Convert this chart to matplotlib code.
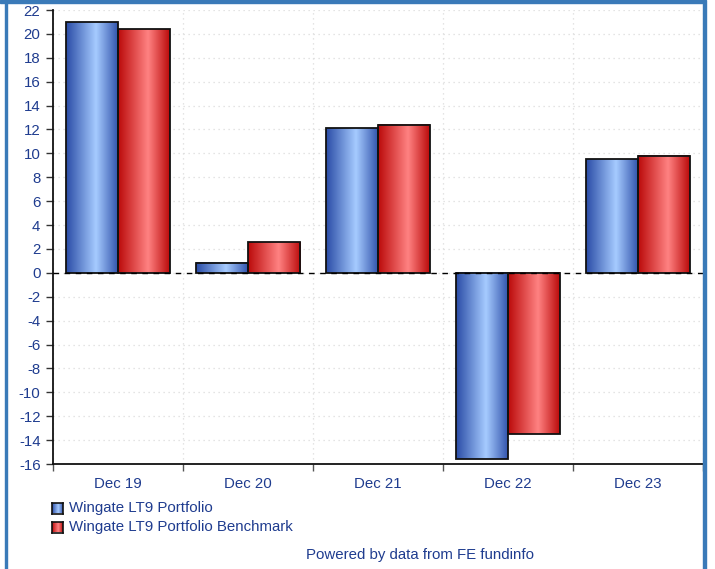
import numpy as np
import matplotlib
matplotlib.use("Agg")
import matplotlib.pyplot as plt
from matplotlib.colors import LinearSegmentedColormap
from matplotlib.patches import Rectangle

categories = ["Dec 19", "Dec 20", "Dec 21", "Dec 22", "Dec 23"]
portfolio = [21.0, 0.85, 12.1, -15.6, 9.5]
benchmark = [20.4, 2.55, 12.4, -13.5, 9.8]
series_names = ["Wingate LT9 Portfolio", "Wingate LT9 Portfolio Benchmark"]
yticks = list(range(-16, 23, 2))

plt.rcParams['font.family'] = ['Liberation Sans', 'DejaVu Sans']
text_color = '#1f3c8f'
fs = 10.8

fig = plt.figure(figsize=(7.15, 5.69), dpi=100)
ax = fig.add_axes([53/715, 1-464/569, 650/715, 454/569])

blue_cmap = LinearSegmentedColormap.from_list('b', [(0, '#2a4ca6'), (0.58, '#a6cbff'), (1, '#3355ad')])
red_cmap = LinearSegmentedColormap.from_list('r', [(0, '#bb0a0a'), (0.58, '#ff8282'), (1, '#bb0a0a')])
grad = np.linspace(0, 1, 256).reshape(1, -1)

x = np.arange(len(categories))
w = 0.4
b1 = ax.bar(x - w/2, portfolio, w, facecolor='none', edgecolor='#111111', linewidth=1.3, zorder=4)
b2 = ax.bar(x + w/2, benchmark, w, facecolor='none', edgecolor='#111111', linewidth=1.3, zorder=4)
for bars, cmap in ((b1, blue_cmap), (b2, red_cmap)):
    for r in bars:
        x0, y0 = r.get_x(), r.get_y()
        ww, hh = r.get_width(), r.get_height()
        ax.imshow(grad, cmap=cmap, extent=[x0, x0+ww, y0, y0+hh], aspect='auto', zorder=3, interpolation='bilinear')

ax.axhline(0, color='black', linestyle=(0, (4, 4)), linewidth=1, zorder=5)

ax.set_xlim(-0.5, len(categories) - 0.5)
ax.set_ylim(-16, 22)
ax.set_yticks(yticks)
ax.set_yticklabels([str(v) for v in yticks])
ax.set_xticks(x)
ax.set_xticklabels(categories)
ax.set_xticks(np.arange(len(categories) + 1) - 0.5, minor=True)
ax.tick_params(axis='x', which='major', length=0, pad=9, labelsize=fs, labelcolor=text_color)
ax.tick_params(axis='x', which='minor', length=5, width=1, color='#555555', direction='out')
ax.tick_params(axis='y', length=5, width=1, color='#333333', labelsize=fs, labelcolor=text_color, pad=4)

ax.grid(True, axis='y', which='major', color='#dcdcdc', linestyle=(0, (1, 3)), linewidth=0.9, zorder=0)
ax.grid(True, axis='x', which='minor', color='#dcdcdc', linestyle=(0, (1, 3)), linewidth=0.9, zorder=0)
ax.set_axisbelow(True)
for s in ('top', 'right'):
    ax.spines[s].set_visible(False)
ax.spines['left'].set_linewidth(1.3)
ax.spines['bottom'].set_linewidth(1.3)
ax.spines['left'].set_color('#111111')
ax.spines['bottom'].set_color('#111111')

# legend
for i, (name, cmap) in enumerate(zip(series_names, (blue_cmap, red_cmap))):
    yc = 1 - (508 + 19*i)/569
    lx = 52/715
    sw, sh = 10.5/715, 11/569
    iax = fig.add_axes([lx, yc - sh/2, sw, sh])
    iax.imshow(grad, cmap=cmap, aspect='auto', interpolation='bilinear')
    iax.set_xticks([]); iax.set_yticks([])
    for sp in iax.spines.values():
        sp.set_linewidth(1.2); sp.set_color('#111111')
    fig.text(69/715, yc, name, color=text_color, fontsize=fs, va='center', ha='left')

fig.text(420/715, 1 - 555/569, "Powered by data from FE fundinfo", color=text_color, fontsize=fs, ha='center', va='center')

# border
border = '#3a7ab8'
fig.patches.append(Rectangle((0, 1 - 3/569), 705/715, 3/569, transform=fig.transFigure, color=border, zorder=10))
fig.patches.append(Rectangle((5/715, 0), 1.5/715, 1, transform=fig.transFigure, color=border, zorder=10))
fig.patches.append(Rectangle((703/715, 0), 3/715, 1, transform=fig.transFigure, color=border, zorder=10))

fig.savefig("out.png", dpi=100)
